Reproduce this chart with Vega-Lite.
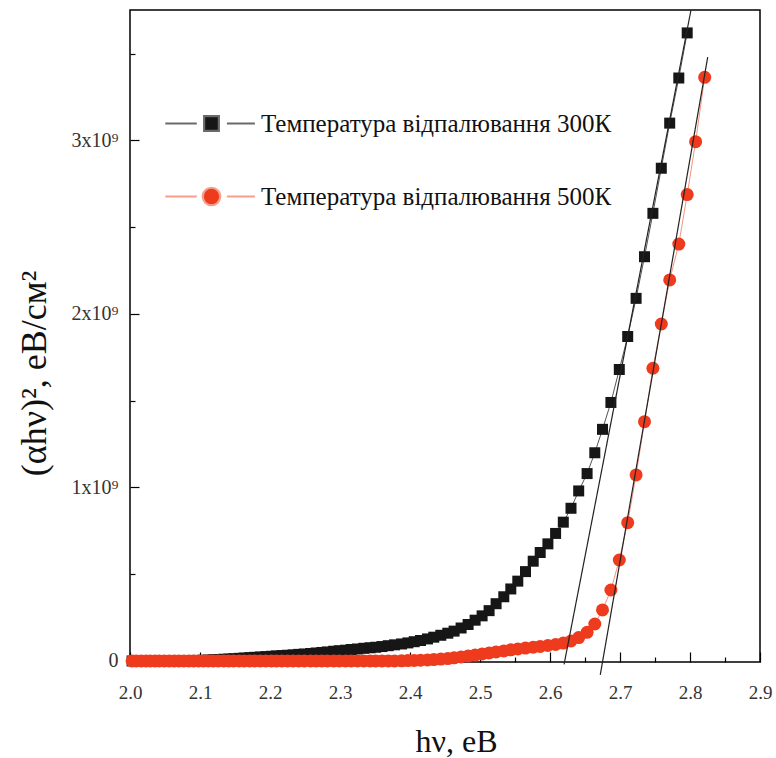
{
  "$schema": "https://vega.github.io/schema/vega-lite/v6.json",
  "width": 630,
  "height": 652,
  "autosize": {"type": "none"},
  "padding": {"left": 130, "top": 10, "right": 16, "bottom": 96},
  "background": "white",
  "config": {"view": {"stroke": "#000", "strokeWidth": 1.5}, "font": "Liberation Serif"},
  "datasets": {
    "pts": [
      {"s":"300","x":2.003,"y":0},{"s":"300","x":2.009,"y":0},{"s":"300","x":2.016,"y":0},{"s":"300","x":2.023,"y":1e6},{"s":"300","x":2.029,"y":1e6},{"s":"300","x":2.036,"y":1e6},{"s":"300","x":2.042,"y":1e6},{"s":"300","x":2.049,"y":1e6},{"s":"300","x":2.056,"y":1e6},{"s":"300","x":2.063,"y":1e6},{"s":"300","x":2.070,"y":1e6},{"s":"300","x":2.077,"y":2e6},{"s":"300","x":2.084,"y":2e6},{"s":"300","x":2.091,"y":3e6},{"s":"300","x":2.098,"y":3e6},{"s":"300","x":2.105,"y":4e6},{"s":"300","x":2.112,"y":5e6},{"s":"300","x":2.119,"y":7e6},{"s":"300","x":2.126,"y":8e6},{"s":"300","x":2.134,"y":1.0e7},{"s":"300","x":2.141,"y":1.1e7},{"s":"300","x":2.148,"y":1.3e7},{"s":"300","x":2.156,"y":1.5e7},{"s":"300","x":2.163,"y":1.7e7},{"s":"300","x":2.171,"y":1.9e7},{"s":"300","x":2.178,"y":2.1e7},{"s":"300","x":2.186,"y":2.3e7},{"s":"300","x":2.194,"y":2.5e7},{"s":"300","x":2.202,"y":2.7e7},{"s":"300","x":2.209,"y":2.9e7},{"s":"300","x":2.217,"y":3.1e7},{"s":"300","x":2.225,"y":3.3e7},{"s":"300","x":2.233,"y":3.5e7},{"s":"300","x":2.241,"y":3.8e7},{"s":"300","x":2.249,"y":4.0e7},{"s":"300","x":2.258,"y":4.3e7},{"s":"300","x":2.266,"y":4.6e7},{"s":"300","x":2.274,"y":4.9e7},{"s":"300","x":2.282,"y":5.2e7},{"s":"300","x":2.291,"y":5.6e7},{"s":"300","x":2.299,"y":5.9e7},{"s":"300","x":2.308,"y":6.2e7},{"s":"300","x":2.316,"y":6.6e7},{"s":"300","x":2.325,"y":6.9e7},{"s":"300","x":2.334,"y":7.3e7},{"s":"300","x":2.343,"y":7.6e7},{"s":"300","x":2.351,"y":7.9e7},{"s":"300","x":2.360,"y":8.3e7},{"s":"300","x":2.369,"y":8.8e7},{"s":"300","x":2.378,"y":9.3e7},{"s":"300","x":2.388,"y":9.8e7},{"s":"300","x":2.397,"y":1.04e8},{"s":"300","x":2.406,"y":1.11e8},{"s":"300","x":2.415,"y":1.18e8},{"s":"300","x":2.425,"y":1.27e8},{"s":"300","x":2.434,"y":1.37e8},{"s":"300","x":2.444,"y":1.48e8},{"s":"300","x":2.454,"y":1.60e8},{"s":"300","x":2.463,"y":1.72e8},{"s":"300","x":2.473,"y":1.90e8},{"s":"300","x":2.483,"y":2.10e8},{"s":"300","x":2.493,"y":2.35e8},{"s":"300","x":2.503,"y":2.60e8},{"s":"300","x":2.513,"y":2.90e8},{"s":"300","x":2.523,"y":3.30e8},{"s":"300","x":2.534,"y":3.70e8},{"s":"300","x":2.544,"y":4.15e8},{"s":"300","x":2.554,"y":4.60e8},{"s":"300","x":2.565,"y":5.15e8},{"s":"300","x":2.576,"y":5.75e8},{"s":"300","x":2.586,"y":6.25e8},{"s":"300","x":2.597,"y":6.75e8},{"s":"300","x":2.608,"y":7.35e8},{"s":"300","x":2.619,"y":8.0e8},{"s":"300","x":2.630,"y":8.8e8},{"s":"300","x":2.641,"y":9.8e8},{"s":"300","x":2.653,"y":1.08e9},{"s":"300","x":2.664,"y":1.20e9},{"s":"300","x":2.675,"y":1.335e9},{"s":"300","x":2.687,"y":1.49e9},{"s":"300","x":2.699,"y":1.68e9},{"s":"300","x":2.711,"y":1.87e9},{"s":"300","x":2.723,"y":2.09e9},{"s":"300","x":2.735,"y":2.33e9},{"s":"300","x":2.747,"y":2.58e9},{"s":"300","x":2.759,"y":2.84e9},{"s":"300","x":2.771,"y":3.10e9},{"s":"300","x":2.784,"y":3.36e9},{"s":"300","x":2.796,"y":3.62e9},
      {"s":"500","x":2.003,"y":0},{"s":"500","x":2.009,"y":0},{"s":"500","x":2.016,"y":0},{"s":"500","x":2.023,"y":0},{"s":"500","x":2.029,"y":0},{"s":"500","x":2.036,"y":0},{"s":"500","x":2.042,"y":0},{"s":"500","x":2.049,"y":0},{"s":"500","x":2.056,"y":0},{"s":"500","x":2.063,"y":0},{"s":"500","x":2.070,"y":0},{"s":"500","x":2.077,"y":0},{"s":"500","x":2.084,"y":0},{"s":"500","x":2.091,"y":0},{"s":"500","x":2.098,"y":0},{"s":"500","x":2.105,"y":0},{"s":"500","x":2.112,"y":0},{"s":"500","x":2.119,"y":0},{"s":"500","x":2.126,"y":0},{"s":"500","x":2.134,"y":0},{"s":"500","x":2.141,"y":0},{"s":"500","x":2.148,"y":0},{"s":"500","x":2.156,"y":0},{"s":"500","x":2.163,"y":0},{"s":"500","x":2.171,"y":0},{"s":"500","x":2.178,"y":0},{"s":"500","x":2.186,"y":0},{"s":"500","x":2.194,"y":0},{"s":"500","x":2.202,"y":0},{"s":"500","x":2.209,"y":0},{"s":"500","x":2.217,"y":0},{"s":"500","x":2.225,"y":0},{"s":"500","x":2.233,"y":0},{"s":"500","x":2.241,"y":0},{"s":"500","x":2.249,"y":0},{"s":"500","x":2.258,"y":0},{"s":"500","x":2.266,"y":0},{"s":"500","x":2.274,"y":0},{"s":"500","x":2.282,"y":0},{"s":"500","x":2.291,"y":0},{"s":"500","x":2.299,"y":0},{"s":"500","x":2.308,"y":0},{"s":"500","x":2.316,"y":0},{"s":"500","x":2.325,"y":0},{"s":"500","x":2.334,"y":0},{"s":"500","x":2.343,"y":0},{"s":"500","x":2.351,"y":0},{"s":"500","x":2.360,"y":0},{"s":"500","x":2.369,"y":0},{"s":"500","x":2.378,"y":0},{"s":"500","x":2.388,"y":1e6},{"s":"500","x":2.397,"y":2e6},{"s":"500","x":2.406,"y":3e6},{"s":"500","x":2.415,"y":4e6},{"s":"500","x":2.425,"y":6e6},{"s":"500","x":2.434,"y":8e6},{"s":"500","x":2.444,"y":1.1e7},{"s":"500","x":2.454,"y":1.4e7},{"s":"500","x":2.463,"y":1.8e7},{"s":"500","x":2.473,"y":2.3e7},{"s":"500","x":2.483,"y":2.8e7},{"s":"500","x":2.493,"y":3.4e7},{"s":"500","x":2.503,"y":4.0e7},{"s":"500","x":2.513,"y":4.6e7},{"s":"500","x":2.523,"y":5.2e7},{"s":"500","x":2.534,"y":5.8e7},{"s":"500","x":2.544,"y":6.4e7},{"s":"500","x":2.554,"y":6.9e7},{"s":"500","x":2.565,"y":7.4e7},{"s":"500","x":2.576,"y":7.9e7},{"s":"500","x":2.586,"y":8.4e7},{"s":"500","x":2.597,"y":8.9e7},{"s":"500","x":2.608,"y":9.5e7},{"s":"500","x":2.619,"y":1.03e8},{"s":"500","x":2.630,"y":1.15e8},{"s":"500","x":2.641,"y":1.35e8},{"s":"500","x":2.653,"y":1.65e8},{"s":"500","x":2.664,"y":2.13e8},{"s":"500","x":2.675,"y":2.94e8},{"s":"500","x":2.687,"y":4.09e8},{"s":"500","x":2.699,"y":5.82e8},{"s":"500","x":2.711,"y":7.97e8},{"s":"500","x":2.723,"y":1.072e9},{"s":"500","x":2.735,"y":1.379e9},{"s":"500","x":2.747,"y":1.687e9},{"s":"500","x":2.759,"y":1.942e9},{"s":"500","x":2.771,"y":2.196e9},{"s":"500","x":2.784,"y":2.403e9},{"s":"500","x":2.796,"y":2.688e9},{"s":"500","x":2.808,"y":2.993e9},{"s":"500","x":2.821,"y":3.364e9}
    ],
    "fits": [
      {"f":"a","x":2.6201,"y":-2e7},{"f":"a","x":2.8014,"y":3.752e9},
      {"f":"b","x":2.6718,"y":-8e7},{"f":"b","x":2.8253,"y":3.48e9}
    ]
  },
  "layer": [
    {
      "data": {"name": "pts"},
      "transform": [{"filter": "datum.s == '300'"}],
      "mark": {"type": "line", "color": "#555", "strokeWidth": 1},
      "encoding": {
        "x": {"field": "x", "type": "quantitative", "axis": null, "scale": {"domain": [2.0, 2.9], "nice": false, "zero": false}},
        "y": {"field": "y", "type": "quantitative", "axis": null, "scale": {"domain": [-6000000, 3752000000], "nice": false, "zero": false}}
      }
    },
    {
      "data": {"name": "pts"},
      "transform": [{"filter": "datum.s == '500'"}],
      "mark": {"type": "line", "color": "#f39580", "strokeWidth": 1},
      "encoding": {
        "x": {"field": "x", "type": "quantitative", "axis": null, "scale": {"domain": [2.0, 2.9], "nice": false, "zero": false}},
        "y": {"field": "y", "type": "quantitative", "axis": null, "scale": {"domain": [-6000000, 3752000000], "nice": false, "zero": false}}
      }
    },
    {
      "data": {"name": "pts"},
      "transform": [{"filter": "datum.s == '300'"}],
      "mark": {"type": "point", "filled": true, "opacity": 1, "shape": "square", "size": 121},
      "encoding": {
        "x": {"field": "x", "type": "quantitative", "scale": {"domain": [2.0, 2.9], "nice": false, "zero": false},
          "axis": {"orient": "bottom", "values": [2.0, 2.1, 2.2, 2.3, 2.4, 2.5, 2.6, 2.7, 2.8, 2.9], "format": ".1f", "tickSize": -10, "tickColor": "#000", "tickWidth": 1.2, "domain": false, "grid": false, "labelFont": "Liberation Serif", "labelFontSize": 19, "labelColor": "#333", "labelPadding": 31, "labelFlush": false, "title": "hν, еВ", "titleFont": "Liberation Serif", "titleFontSize": 32, "titleFontWeight": "normal", "titleColor": "#111", "titleX": 326, "titleY": 64, "titleBaseline": "top"}},
        "y": {"field": "y", "type": "quantitative", "scale": {"domain": [-6000000, 3752000000], "nice": false, "zero": false},
          "axis": {"orient": "left", "values": [0, 1000000000, 2000000000, 3000000000], "labelExpr": "datum.value == 0 ? '0' : format(datum.value / 1e9, 'd') + 'x10⁹'", "tickSize": -9, "tickColor": "#000", "tickWidth": 1.2, "domain": false, "grid": false, "labelFont": "Liberation Serif", "labelFontSize": 20, "labelColor": "#333", "labelPadding": 21, "title": "(αhν)², еВ/см²", "titleFont": "Liberation Serif", "titleFontSize": 36, "titleFontWeight": "normal", "titleColor": "#111", "titleX": -77, "titleY": 363, "titleAngle": 270, "titleBaseline": "bottom", "titleAlign": "center"}},
        "color": {"field": "s", "type": "nominal", "scale": {"domain": ["300"], "range": ["#161616"]},
          "legend": {"orient": "none", "legendX": 69, "legendY": 101, "title": null, "padding": 0,
            "symbolType": "M-6.6,0H-2.1M2.2,0H6.2M-1.05,-1.05H1.05V1.05H-1.05Z", "symbolSize": 196, "symbolStrokeColor": "#6a6a6a", "symbolStrokeWidth": 2.2, "symbolOpacity": 1,
            "labelOffset": 37, "labelFont": "Liberation Serif", "labelFontSize": 25, "labelColor": "#111", "labelLimit": 600,
            "labelExpr": "'Температура відпалювання ' + datum.label + 'К'"}}
      }
    },
    {
      "data": {"name": "pts"},
      "transform": [{"filter": "datum.s == '500'"}],
      "mark": {"type": "point", "filled": true, "opacity": 1, "shape": "circle", "size": 169},
      "encoding": {
        "x": {"field": "x", "type": "quantitative", "axis": null, "scale": {"domain": [2.0, 2.9], "nice": false, "zero": false}},
        "y": {"field": "y", "type": "quantitative", "axis": null, "scale": {"domain": [-6000000, 3752000000], "nice": false, "zero": false}},
        "fill": {"field": "s", "type": "nominal", "scale": {"domain": ["500"], "range": ["#ee3b1e"]},
          "legend": {"orient": "none", "legendX": 69, "legendY": 174, "title": null, "padding": 0,
            "symbolType": "M-6.6,0H-2.1M2.2,0H6.2M1.25,0A1.25,1.25,0,1,1,-1.25,0A1.25,1.25,0,1,1,1.25,0Z", "symbolSize": 196, "symbolStrokeColor": "#f6a08c", "symbolStrokeWidth": 2.2, "symbolOpacity": 1,
            "labelOffset": 37, "labelFont": "Liberation Serif", "labelFontSize": 25, "labelColor": "#111", "labelLimit": 600,
            "labelExpr": "'Температура відпалювання ' + datum.label + 'К'"}}
      }
    },
    {
      "data": {"name": "fits"},
      "mark": {"type": "line", "color": "#222", "strokeWidth": 1.2, "clip": false},
      "encoding": {
        "x": {"field": "x", "type": "quantitative", "scale": {"domain": [2.0, 2.9], "nice": false, "zero": false},
          "axis": {"orient": "bottom", "values": [2.05, 2.15, 2.25, 2.35, 2.45, 2.55, 2.65, 2.75, 2.85], "tickSize": -5, "tickColor": "#000", "tickWidth": 1.2, "labels": false, "domain": false, "grid": false, "title": null}},
        "y": {"field": "y", "type": "quantitative", "scale": {"domain": [-6000000, 3752000000], "nice": false, "zero": false},
          "axis": {"orient": "left", "values": [500000000, 1500000000, 2500000000, 3500000000], "tickSize": -5, "tickColor": "#000", "tickWidth": 1.2, "labels": false, "domain": false, "grid": false, "title": null}},
        "detail": {"field": "f", "type": "nominal"}
      }
    }
  ],
  "resolve": {"axis": {"x": "independent", "y": "independent"}}
}
